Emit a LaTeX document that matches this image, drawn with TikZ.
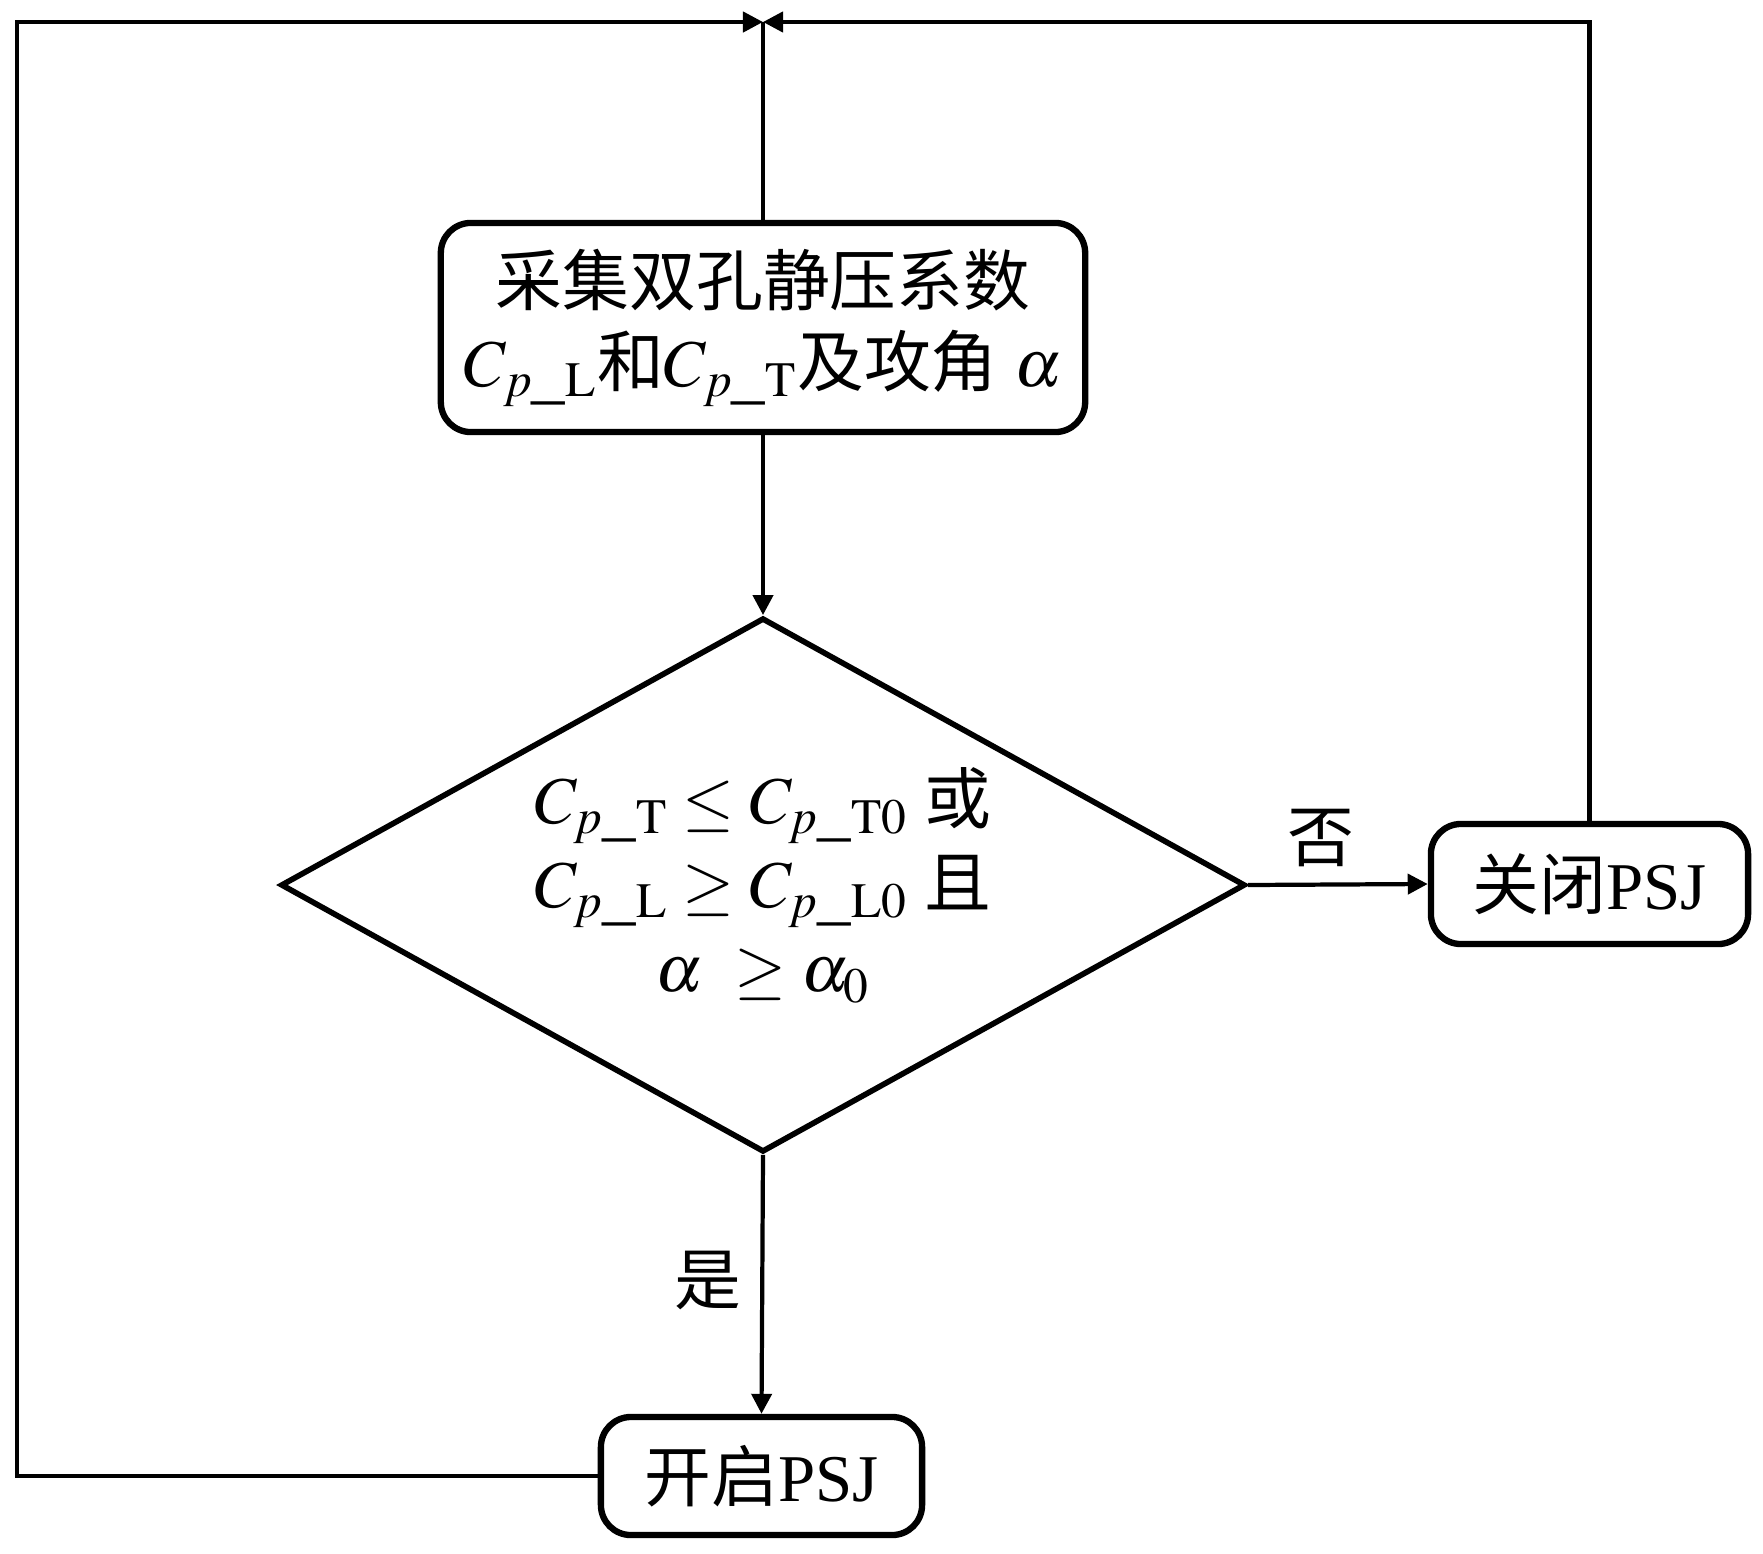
\documentclass[tikz,border=0pt]{standalone}
\usepackage{mathptmx}
\usepackage{fontspec}
\setmainfont{Liberation Serif}
\newfontfamily\cjk{Noto Sans CJK SC}
\usetikzlibrary{positioning,shapes.geometric,arrows.meta}

\begin{document}
\begin{tikzpicture}[x=0.01cm,y=-0.01cm,
    font=\fontsize{19}{23}\selectfont,
    procbox/.style={draw,line width=1.8pt,rounded corners=0.3cm,align=center,inner sep=0pt},
    decbox/.style={draw,diamond,line width=1.6pt,aspect=1.8,align=center,inner sep=0pt,
      minimum width=9.64cm,minimum height=5.34cm},
    flowline/.style={line width=1.2pt},
    flowarrow/.style={flowline,-{Triangle[length=0.2cm,width=0.2cm]}}]
  \useasboundingbox (0,0) rectangle (1763,1554);
  % boxes
  \node[procbox,minimum width=6.44cm,minimum height=2.09cm] (acq) at (763,327.5)
    {{\cjk 采集双孔静压系数}\\$C_{p\_\mathrm{L}}${\cjk 和}$C_{p\_\mathrm{T}}${\cjk 及攻角} $\alpha$};
  \node[decbox] (dec) at (763,885)
    {$C_{p\_\mathrm{T}} \leq C_{p\_\mathrm{T0}}$ {\cjk 或}\\[1pt]
     $C_{p\_\mathrm{L}} \geq C_{p\_\mathrm{L0}}$ {\cjk 且}\\[1pt]
     $\alpha\ \geq \alpha_0$};
  \node[procbox,minimum width=3.17cm,minimum height=1.2cm] (close) at (1589.5,884) {{\cjk 关闭}PSJ};
  \node[procbox,minimum width=3.21cm,minimum height=1.18cm] (open) at (761.5,1476) {{\cjk 开启}PSJ};
  % loop points
  \coordinate (top) at (763,22);
  \coordinate (tl) at (17,22);
  % connectors
  \draw[flowarrow] (acq.south) -- (dec.north);
  \draw[flowarrow] (dec.east) -- (close.west);
  \draw[flowarrow] (dec.south) -- (open.north);
  \draw[flowline] (acq.north) -- (top);
  \draw[flowarrow] (close.north) |- (top);
  \draw[flowarrow] (open.west) -| (tl) -- (top);
  % labels
  \node (lblno) at (1321,838) {\cjk 否};
  \node (lblyes) at (708,1280) {\cjk 是};
\end{tikzpicture}
\end{document}
